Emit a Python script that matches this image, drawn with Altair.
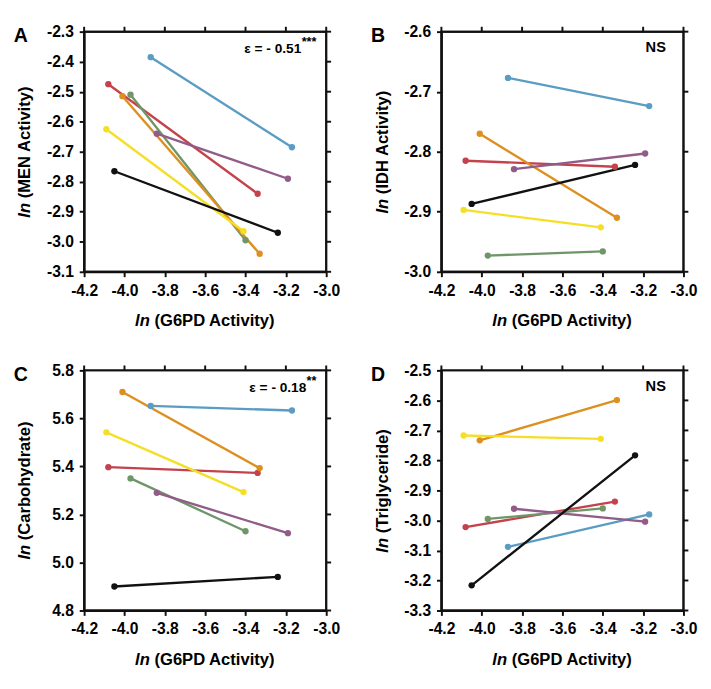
import altair as alt
import pandas as pd

# ---- data ----
series = ["S1", "S2", "S3", "S4", "S5", "S6", "S7"]
colors = ["#5a9cc3", "#c3424c", "#6e9669", "#dd8f1f", "#f5df26", "#915c88", "#111111"]
g6pd_low = [-3.87, -4.08, -3.97, -4.01, -4.09, -3.84, -4.05]
g6pd_high = [-3.17, -3.34, -3.40, -3.33, -3.41, -3.19, -3.24]

men_low = [-2.385, -2.475, -2.51, -2.515, -2.625, -2.64, -2.765]
men_high = [-2.685, -2.84, -2.995, -3.04, -2.965, -2.79, -2.97]
idh_low = [-2.677, -2.815, -2.973, -2.77, -2.897, -2.829, -2.887]
idh_high = [-2.724, -2.825, -2.966, -2.91, -2.926, -2.803, -2.822]
carb_low = [5.652, 5.397, 5.35, 5.71, 5.542, 5.29, 4.90]
carb_high = [5.633, 5.373, 5.13, 5.393, 5.293, 5.122, 4.94]
tg_low = [-3.088, -3.022, -2.995, -2.733, -2.717, -2.961, -3.216]
tg_high = [-2.98, -2.937, -2.96, -2.599, -2.728, -3.004, -2.783]

x_domain = [-4.2, -3.0]
x_ticks = [-4.2, -4.0, -3.8, -3.6, -3.4, -3.2, -3.0]
men_ticks = [-3.1, -3.0, -2.9, -2.8, -2.7, -2.6, -2.5, -2.4, -2.3]
idh_ticks = [-3.0, -2.9, -2.8, -2.7, -2.6]
carb_ticks = [4.8, 5.0, 5.2, 5.4, 5.6, 5.8]
tg_ticks = [-3.3, -3.2, -3.1, -3.0, -2.9, -2.8, -2.7, -2.6, -2.5]

W, H = 248, 246
FONT = "Liberation Sans"
LABEL_FS = 16
TITLE_FS = 17
INK = "#000000"
LINE_INK = "#111111"
TICK = 5

# Arial/Liberation bold advance widths (per em)
CW = {" ": 0.278, "(": 0.333, ")": 0.333, "A": 0.722, "C": 0.722, "D": 0.722,
      "E": 0.667, "G": 0.778, "H": 0.722, "I": 0.278, "M": 0.833, "N": 0.722,
      "P": 0.667, "T": 0.611, "a": 0.556, "b": 0.611, "c": 0.556, "d": 0.611,
      "e": 0.556, "g": 0.611, "h": 0.611, "i": 0.278, "l": 0.278, "n": 0.611,
      "o": 0.611, "r": 0.389, "t": 0.333, "v": 0.556, "y": 0.556, "6": 0.556}


def tw(s, fs):
    return sum(CW.get(c, 0.556) for c in s) * fs


def txt(text, x, y, size, weight="bold", style="normal", align="left",
        baseline="alphabetic", angle=0):
    return alt.Chart(pd.DataFrame({"t": [text]})).mark_text(
        align=align, baseline=baseline, fontSize=size, fontWeight=weight,
        fontStyle=style, font=FONT, color=INK, angle=angle
    ).encode(text="t:N", x=alt.value(x), y=alt.value(y))


LABEL_EXPR = "replace(format(datum.value, '.1f'), '\u2212', '-')"


def panel(letter, rest_title, lo, hi, ydom, yticks, note=None, sup=None, ns=False):
    rows = []
    for i, s in enumerate(series):
        rows.append({"s": s, "x": g6pd_low[i], "y": lo[i]})
        rows.append({"s": s, "x": g6pd_high[i], "y": hi[i]})
    df = pd.DataFrame(rows)
    xs = alt.Scale(domain=x_domain, nice=False, zero=False)
    ys = alt.Scale(domain=ydom, nice=False, zero=False)
    common = dict(domainColor=LINE_INK, domainWidth=2, tickColor=LINE_INK,
                  tickWidth=2, tickSize=TICK, grid=False, title=None,
                  labelFont=FONT, labelFontSize=LABEL_FS, labelFontWeight="bold",
                  labelColor=INK, labelPadding=6, labelFlush=False,
                  labelOverlap=False, labelExpr=LABEL_EXPR)
    ax_x = alt.Axis(values=x_ticks, **common)
    ax_y = alt.Axis(values=yticks, **common)
    col = alt.Color("s:N", scale=alt.Scale(domain=series, range=colors), legend=None)

    lines = alt.Chart(df).mark_line(strokeWidth=2.4).encode(
        x=alt.X("x:Q", scale=xs, axis=ax_x), y=alt.Y("y:Q", scale=ys, axis=ax_y),
        color=col, detail="s:N")
    pts = alt.Chart(df).mark_circle(size=42, opacity=1).encode(
        x=alt.X("x:Q", scale=xs, axis=ax_x), y=alt.Y("y:Q", scale=ys, axis=ax_y),
        color=col)

    # plot box traced through the domain corners
    fdf = pd.DataFrame({"fx": [x_domain[0], x_domain[1], x_domain[1], x_domain[0], x_domain[0]],
                        "fy": [ydom[0], ydom[0], ydom[1], ydom[1], ydom[0]],
                        "k": [0, 1, 2, 3, 4]})
    frame = alt.Chart(fdf).mark_line(color=LINE_INK, strokeWidth=2).encode(
        x=alt.X("fx:Q", scale=xs, axis=ax_x), y=alt.Y("fy:Q", scale=ys, axis=ax_y),
        order="k:Q")

    # outward ticks on the top and right edges, at the tick values
    dy = TICK * (ydom[1] - ydom[0]) / H
    dx = TICK * (x_domain[1] - x_domain[0]) / W
    top_df = pd.DataFrame([{"tx": v, "ty": ydom[1] + e * dy, "e": e, "g": str(v)}
                           for v in x_ticks for e in (0, 1)])
    right_df = pd.DataFrame([{"tx": x_domain[1] + e * dx, "ty": v, "e": e, "g": str(v)}
                             for v in yticks for e in (0, 1)])
    t_top = alt.Chart(top_df).mark_line(color=LINE_INK, strokeWidth=2).encode(
        x=alt.X("tx:Q", scale=xs, axis=ax_x), y=alt.Y("ty:Q", scale=ys, axis=ax_y),
        detail="g:N", order="e:Q")
    t_right = alt.Chart(right_df).mark_line(color=LINE_INK, strokeWidth=2).encode(
        x=alt.X("tx:Q", scale=xs, axis=ax_x), y=alt.Y("ty:Q", scale=ys, axis=ax_y),
        detail="g:N", order="e:Q")

    layers = [lines, frame, t_top, t_right, pts]
    # x title
    ln_w = tw("ln ", TITLE_FS)
    xr = "(G6PD Activity)"
    tot = ln_w + tw(xr, TITLE_FS)
    x0 = W / 2 - tot / 2
    xt_y = H + 56
    layers.append(txt("ln", x0, xt_y, TITLE_FS, style="italic"))
    layers.append(txt(xr, x0 + ln_w, xt_y, TITLE_FS))
    # y title (rotated)
    tot_y = ln_w + tw(rest_title, TITLE_FS)
    y0 = H / 2 + tot_y / 2
    layers.append(txt("ln", -55, y0, TITLE_FS, style="italic", angle=270))
    layers.append(txt(rest_title, -55, y0 - ln_w, TITLE_FS, angle=270))
    # panel letter
    layers.append(txt(letter, -72, 11, 20))
    # annotation
    if note:
        supw = len(sup) * 5.2
        layers.append(txt(note, W - 10 - supw, 22, 14, align="right"))
        layers.append(txt(sup, W - 10, 15, 13, align="right"))
    if ns:
        layers.append(txt("NS", W - 18, 21, 15, align="right"))

    return alt.layer(*layers).properties(width=W, height=H)


pA = panel("A", "(MEN Activity)", men_low, men_high, [-3.1, -2.3], men_ticks,
           note="\u03b5 = - 0.51", sup="***")
pB = panel("B", "(IDH Activity)", idh_low, idh_high, [-3.0, -2.6], idh_ticks, ns=True)
pC = panel("C", "(Carbohydrate)", carb_low, carb_high, [4.8, 5.8], carb_ticks,
           note="\u03b5 = - 0.18", sup="**")
pD = panel("D", "(Triglyceride)", tg_low, tg_high, [-3.3, -2.5], tg_ticks, ns=True)

chart = alt.vconcat(
    alt.hconcat(pA, pB, spacing=30),
    alt.hconcat(pC, pD, spacing=30),
    spacing=30,
).configure_view(stroke=LINE_INK, strokeWidth=2)

chart.save("out.html", embed_options={"renderer": "svg", "actions": False})
